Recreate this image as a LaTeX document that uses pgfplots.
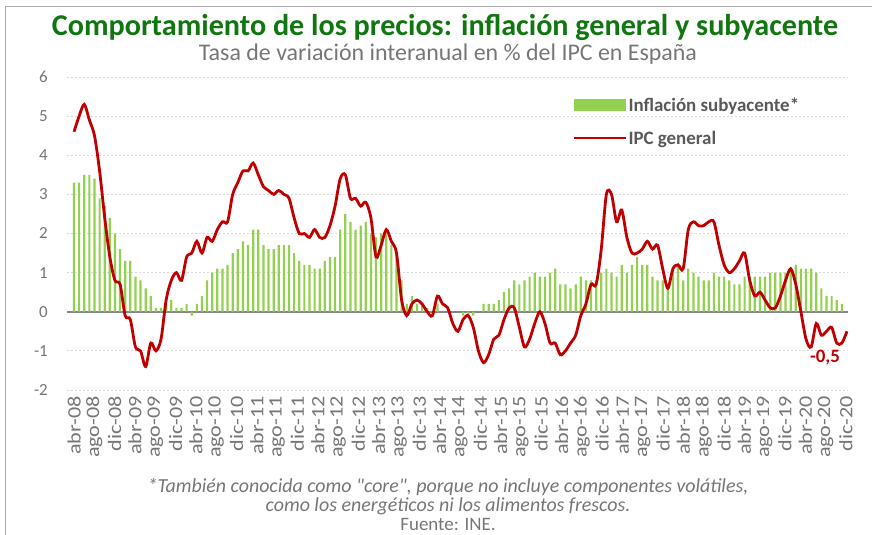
\documentclass[border=0pt]{standalone}
\usepackage{pgfplots}
\pgfplotsset{compat=1.18}
\usepackage{pgfplotstable}
\usepackage{fontspec}
\setmainfont{Carlito}
\newfontfamily\tickfont[FakeStretch=1.17]{Carlito}
\definecolor{barGreen}{RGB}{146,208,80}
\definecolor{lineRed}{RGB}{192,0,0}
\definecolor{titleGreen}{RGB}{16,118,16}
\definecolor{txtGray}{RGB}{118,118,118}
\definecolor{legGray}{RGB}{89,89,89}
\definecolor{gridGray}{RGB}{217,217,217}
\definecolor{zeroGray}{RGB}{134,134,134}
\definecolor{frameGray}{RGB}{170,170,170}

% IPC general, May 2008 - Dec 2020
\pgfplotstableread{
v
4.6
5.0
5.3
4.9
4.5
3.6
2.4
1.4
0.8
0.7
-0.1
-0.2
-0.9
-1.0
-1.4
-0.8
-1.0
-0.7
0.3
0.8
1.0
0.8
1.4
1.5
1.8
1.5
1.9
1.8
2.1
2.3
2.3
3.0
3.3
3.6
3.6
3.8
3.5
3.2
3.1
3.0
3.1
3.0
2.9
2.4
2.0
2.0
1.9
2.1
1.9
1.9
2.2
2.7
3.4
3.5
2.9
2.9
2.7
2.8
2.4
1.4
1.7
2.1
1.8
1.5
0.3
-0.1
0.2
0.3
0.2
0.0
-0.1
0.4
0.2
0.1
-0.3
-0.5
-0.2
-0.1
-0.4
-1.0
-1.3
-1.1
-0.7
-0.6
-0.2
0.1
0.1
-0.4
-0.9
-0.7
-0.3
0.0
-0.3
-0.8
-0.8
-1.1
-1.0
-0.8
-0.6
-0.1
0.2
0.7
0.7
1.6
3.0
3.0
2.3
2.6
1.9
1.5
1.5
1.6
1.8
1.6
1.7
1.1
0.6
1.1
1.2
1.1
2.1
2.3
2.2
2.2
2.3
2.3
1.7
1.2
1.0
1.1
1.3
1.5
0.8
0.4
0.5
0.3
0.1
0.1
0.4
0.8
1.1
0.7
0.0
-0.7
-0.9
-0.3
-0.6
-0.5
-0.4
-0.8
-0.8
-0.5
}\ipc

% Inflacion subyacente, May 2008 - Nov 2020
\pgfplotstableread{
v
3.3
3.3
3.5
3.5
3.4
2.9
2.7
2.4
2.0
1.6
1.3
1.3
0.9
0.8
0.6
0.4
0.1
0.1
0.2
0.3
0.1
0.1
0.2
-0.1
0.2
0.4
0.8
1.0
1.1
1.1
1.2
1.5
1.6
1.8
1.7
2.1
2.1
1.7
1.6
1.6
1.7
1.7
1.7
1.5
1.3
1.2
1.2
1.1
1.1
1.3
1.4
1.4
2.1
2.5
2.3
2.1
2.2
2.3
2.0
1.9
2.0
2.0
1.7
1.5
0.8
0.2
0.4
0.2
0.2
0.1
0.0
0.2
0.0
0.0
0.0
0.0
-0.1
-0.1
-0.1
0.0
0.2
0.2
0.2
0.3
0.5
0.6
0.8
0.7
0.8
0.9
1.0
0.9
0.9
1.0
1.1
0.7
0.7
0.6
0.7
0.9
0.8
0.8
0.8
1.0
1.1
1.0
0.9
1.2
1.0
1.2
1.4
1.2
1.2
0.9
0.8
0.8
0.7
1.1
1.2
0.8
1.1
1.0
0.9
0.8
0.8
1.0
0.9
0.9
0.8
0.7
0.7
0.9
0.9
0.9
0.9
0.9
1.0
1.0
1.0
1.0
1.1
1.2
1.1
1.1
1.1
1.0
0.6
0.4
0.4
0.3
0.2
}\sub

\begin{document}
\begin{tikzpicture}
\path[use as bounding box] (0,0) rectangle (872bp,535bp);
\draw[frameGray, line width=1bp] (5bp,0bp) -- (5bp,528.5bp) -- (872bp,528.5bp);

\node[anchor=base, text=titleGreen, font=\bfseries, inner sep=0pt] at (445bp,499bp)
  {\resizebox{786bp}{!}{Comportamiento de los precios: inflación general y subyacente}};
\node[anchor=base, text=txtGray, inner sep=0pt] at (448bp,474bp)
  {\resizebox{498bp}{!}{Tasa de variación interanual en \% del IPC en España}};

\begin{axis}[
  at={(67bp,145bp)}, anchor=south west,
  scale only axis, width=781bp, height=313bp,
  xmin=-1.37, xmax=151.2, ymin=-2, ymax=6,
  ytick={-2,-1,0,1,2,3,4,5,6},
  xtick={0,3.968,...,151},
  xticklabels={abr-08,ago-08,dic-08,abr-09,ago-09,dic-09,abr-10,ago-10,dic-10,abr-11,ago-11,dic-11,abr-12,ago-12,dic-12,abr-13,ago-13,dic-13,abr-14,ago-14,dic-14,abr-15,ago-15,dic-15,abr-16,ago-16,dic-16,abr-17,ago-17,dic-17,abr-18,ago-18,dic-18,abr-19,ago-19,dic-19,abr-20,ago-20,dic-20},
  x tick label style={rotate=90, anchor=east, inner ysep=0pt, inner xsep=6bp, font=\tickfont\fontsize{19}{19}\selectfont, text=txtGray},
  y tick label style={inner sep=0pt, xshift=-19bp, font=\fontsize{17}{17}\selectfont, text=txtGray},
  /pgf/number format/assume math mode=true,
  ymajorgrids,
  major grid style={gridGray, dash pattern=on 2bp off 2bp, line width=0.8bp},
  axis line style={draw=none},
  major tick length=0pt,
  extra y ticks={0}, extra y tick labels={},
  extra y tick style={ymajorgrids, major grid style={zeroGray, line width=2.2bp, solid}},
  legend style={at={(rel axis cs:0.647,0.94)}, anchor=north west, draw=none, fill=none,
    font=\fontsize{19}{19}\selectfont\bfseries, text=legGray, row sep=14bp, inner sep=0pt,
    /tikz/every even column/.style={column sep=5bp}},
  legend cell align=left,
]
\addplot[ybar, bar width=2.2bp, fill=barGreen, draw=none,
  legend image code/.code={\fill[barGreen] (0bp,-6bp) rectangle (52bp,6bp);}]
  table[x expr=\coordindex, y=v]{\sub};
\addlegendentry{Inflación subyacente*}
\addplot[lineRed, line width=2.8bp, smooth, no markers,
  legend image code/.code={\draw[lineRed, line width=2bp] (0bp,0bp) -- (52bp,0bp);}]
  table[x expr=\coordindex, y=v]{\ipc};
\addlegendentry{IPC general}
\node[text=lineRed, font=\bfseries\fontsize{19}{19}\selectfont] at (axis cs:146.7,-1.18) {-0,5};
\end{axis}

\node[anchor=base, text=txtGray, font=\itshape\fontsize{20}{20}\selectfont, inner sep=0pt] at (448bp,42bp)
  {*También conocida como \textquotedbl core\textquotedbl, porque no incluye componentes volátiles,};
\node[anchor=base, text=txtGray, font=\itshape\fontsize{20}{20}\selectfont, inner sep=0pt] at (448bp,24bp)
  {como los energéticos ni los alimentos frescos.};
\node[anchor=base, text=txtGray, font=\fontsize{19}{19}\selectfont, inner sep=0pt] at (448bp,5bp)
  {Fuente: INE.};
\end{tikzpicture}
\end{document}
